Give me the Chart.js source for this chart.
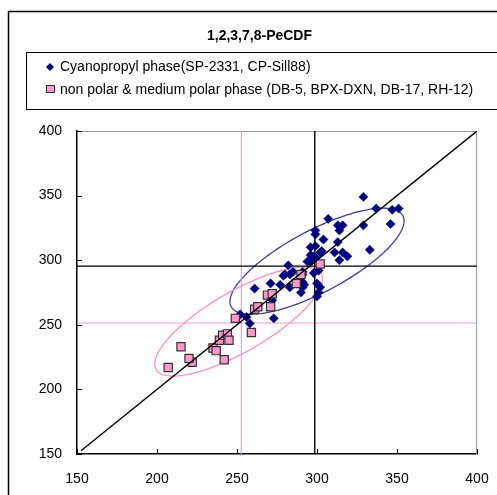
<!DOCTYPE html>
<html>
<head>
<meta charset="utf-8">
<style>
  html, body { margin: 0; padding: 0; background: #fff; }
</style>
</head>
<body>
<canvas id="chart" width="497" height="495"></canvas>
<script src="https://cdn.jsdelivr.net/npm/chart.js"></script>
<script>
const chartTitle = '1,2,3,7,8-PeCDF';
const seriesNames = [
    'Cyanopropyl phase(SP-2331, CP-Sill88)',
    'non polar & medium polar phase (DB-5, BPX-DXN, DB-17, RH-12)'
];

// cyanopropyl columns
const cyanoX = [329,337,347,351,346,307,313,316,314,329,299,299,304,313,296,303,311,316,319,314,333,294,296,298,301,282,280,283,285,291,291,291,290,300,271,277,283,261,300,301,273,252,256,258,272,302,292,298,291,288,279,302,299,296,299];
const cyanoY = [349,340,339,340,328,332,327,327,323,327,323,320,316,314,310,307,306,306,303,300,308,299,299,303,292,296,289,289,291,289,283,279,275,282,282,281,279,278,272,275,255,258,256,251,269,279,281,290,291,282,288,306,311,304,302];

// non polar / medium polar columns
const nonPolarX = [207,215,222,220,235,237,239,241,244,245,242,249,259,261,263,271,269,272,287,290,302];
const nonPolarY = [217,233,221,224,232,230,238,242,243,238,223,255,244,262,264,264,273,274,282,289,297];

const axisMin = 150, axisMax = 400, axisStep = 50;

// mean lines [x, y]
const cyanoMean = [298.6, 295.4];
const nonPolarMean = [252.7, 251.4];
const diagonal = [152.5, 400];

// ellipse: centre x, centre y, semi axis a, semi axis b, angle (deg)
const cyanoEllipse = [300, 299.2, 64.3, 22.6, 34.7];
const nonPolarEllipse = [251, 252.5, 63.7, 21.8, 37.1];

const FONT = "'Liberation Sans', Arial, sans-serif";

function pts(xs, ys) {
    return xs.map((x, i) => ({x: x, y: ys[i]}));
}

function meanLines(m) {
    return [
        [{x: m[0], y: axisMin}, {x: m[0], y: axisMax}],
        [{x: axisMin, y: m[1]}, {x: axisMax, y: m[1]}]
    ];
}

const cyanoLines = meanLines(cyanoMean);
const nonPolarLines = meanLines(nonPolarMean);

function lineSet(data, color, width, order) {
    return {
        type: 'line', data: data, borderColor: color, borderWidth: width,
        pointRadius: 0, fill: false, showLine: true, order: order
    };
}

// draws frame, title, legend box, inner ticks and ellipses
const decor = {
    id: 'decor',
    beforeDatasetsDraw(chart) {
        const ctx = chart.ctx;
        const a = chart.chartArea;
        const xs = chart.scales.x, ys = chart.scales.y;
        ctx.save();

        // gray top and right edges
        ctx.strokeStyle = '#999';
        ctx.lineWidth = 1;
        ctx.beginPath();
        ctx.moveTo(a.left, a.top + 0.5);
        ctx.lineTo(a.right - 0.5, a.top + 0.5);
        ctx.lineTo(a.right - 0.5, a.bottom);
        ctx.stroke();

        // inner ticks
        ctx.strokeStyle = '#000';
        ctx.beginPath();
        xs.ticks.forEach(t => {
            const p = Math.round(xs.getPixelForValue(t.value)) + 0.5;
            ctx.moveTo(p, a.bottom);
            ctx.lineTo(p, a.bottom - 5);
        });
        ys.ticks.forEach(t => {
            const p = Math.round(ys.getPixelForValue(t.value)) + 0.5;
            ctx.moveTo(a.left, p);
            ctx.lineTo(a.left + 5, p);
        });
        ctx.stroke();

        // ellipses
        [[cyanoEllipse, '#3f3fa3'], [nonPolarEllipse, '#ff8fc8']].forEach(([e, col]) => {
            const rad = e[4] * Math.PI / 180;
            ctx.strokeStyle = col;
            ctx.lineWidth = 1.3;
            ctx.beginPath();
            for (let i = 0; i <= 180; i++) {
                const t = i / 180 * Math.PI * 2;
                const vx = e[0] + e[2] * Math.cos(rad) * Math.cos(t) - e[3] * Math.sin(rad) * Math.sin(t);
                const vy = e[1] + e[2] * Math.sin(rad) * Math.cos(t) + e[3] * Math.cos(rad) * Math.sin(t);
                const px = xs.getPixelForValue(vx), py = ys.getPixelForValue(vy);
                if (i === 0) ctx.moveTo(px, py); else ctx.lineTo(px, py);
            }
            ctx.closePath();
            ctx.stroke();
        });
        ctx.restore();
    },
    afterDraw(chart) {
        const ctx = chart.ctx;
        ctx.save();
        // outer border
        ctx.strokeStyle = '#000';
        ctx.lineWidth = 1.5;
        ctx.strokeRect(8.5, 11.5, 520, 520);

        // title
        ctx.fillStyle = '#000';
        ctx.font = 'bold 14px ' + FONT;
        ctx.textAlign = 'center';
        ctx.textBaseline = 'alphabetic';
        ctx.fillText(chartTitle, 259.5, 39.5);

        // legend box
        ctx.lineWidth = 1;
        ctx.strokeRect(26.5, 52.5, 500, 57);

        // markers
        ctx.fillStyle = '#000080';
        ctx.beginPath();
        ctx.moveTo(50, 63);
        ctx.lineTo(54, 67);
        ctx.lineTo(50, 71);
        ctx.lineTo(46, 67);
        ctx.closePath();
        ctx.fill();

        ctx.fillStyle = '#ff99cc';
        ctx.strokeStyle = '#333';
        ctx.fillRect(46.5, 85.5, 8, 7);
        ctx.strokeRect(46.5, 85.5, 8, 7);

        ctx.fillStyle = '#000';
        ctx.font = '14px ' + FONT;
        ctx.textAlign = 'left';
        ctx.fillText(seriesNames[0], 60, 70.5);
        ctx.fillText(seriesNames[1], 60, 94);
        ctx.restore();
    }
};

const tickFont = {family: FONT, size: 14};

new Chart(document.getElementById('chart'), {
    type: 'scatter',
    data: {
        datasets: [
            {
                label: seriesNames[0],
                data: pts(cyanoX, cyanoY),
                pointStyle: 'rectRot',
                pointRadius: 4.6,
                pointHoverRadius: 4.6,
                backgroundColor: '#000080',
                borderColor: '#000080',
                borderWidth: 0.5,
                order: 3
            },
            {
                label: seriesNames[1],
                data: pts(nonPolarX, nonPolarY),
                pointStyle: 'rect',
                pointRadius: 5.8,
                pointHoverRadius: 5.8,
                backgroundColor: '#ff99cc',
                borderColor: '#333333',
                borderWidth: 1.2,
                order: 2
            },
            lineSet(cyanoLines[0], '#000', 1.4, 5),
            lineSet(cyanoLines[1], '#000', 1.4, 5),
            lineSet(nonPolarLines[0], '#ff99cc', 1.2, 6),
            lineSet(nonPolarLines[1], '#ff99cc', 1.2, 6),
            lineSet([{x: diagonal[0], y: diagonal[0]}, {x: diagonal[1], y: diagonal[1]}], '#000', 1.4, 1)
        ]
    },
    options: {
        responsive: false,
        animation: false,
        devicePixelRatio: 1,
        layout: {padding: {left: 0, top: 131, right: 20, bottom: 0}},
        plugins: {
            legend: {display: false},
            title: {display: false},
            tooltip: {enabled: false}
        },
        scales: {
            x: {
                type: 'linear', min: axisMin, max: axisMax,
                ticks: {stepSize: axisStep, font: tickFont, color: '#000', padding: 17, maxRotation: 0},
                grid: {drawOnChartArea: false, drawTicks: false},
                border: {color: '#000', width: 1.5},
                afterFit: s => { s.height = 41; s.paddingLeft = 0; s.paddingRight = 0; }
            },
            y: {
                type: 'linear', min: axisMin, max: axisMax,
                ticks: {stepSize: axisStep, font: tickFont, color: '#000', padding: 15},
                grid: {drawOnChartArea: false, drawTicks: false},
                border: {color: '#000', width: 1.5},
                afterFit: s => { s.width = 77; s.paddingTop = 0; s.paddingBottom = 0; }
            }
        }
    },
    plugins: [decor]
});
</script>
</body>
</html>
